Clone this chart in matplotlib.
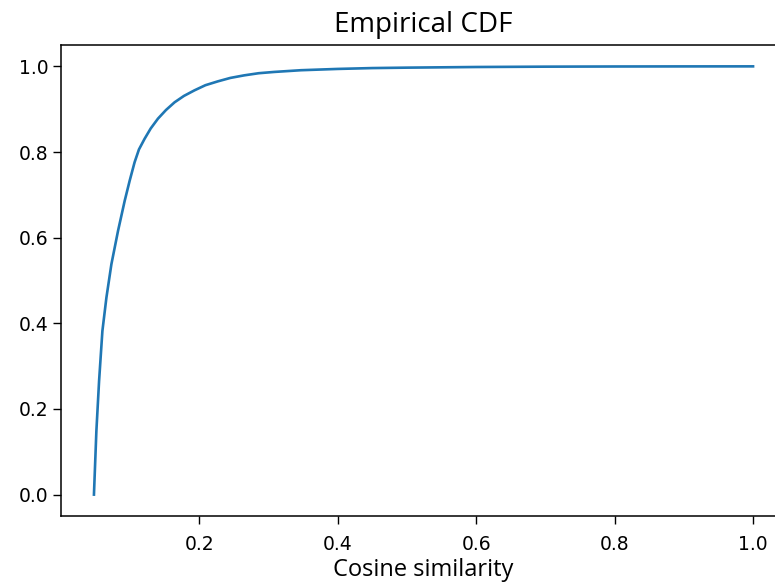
import matplotlib
matplotlib.use("Agg")
import matplotlib.pyplot as plt

# values
cos_sim = [0.048, 0.0515, 0.0554, 0.0602, 0.066, 0.0732, 0.0828, 0.0924, 0.0996,
           0.1067, 0.113, 0.1212, 0.130, 0.1405, 0.152, 0.1644, 0.178, 0.1932,
           0.209, 0.227, 0.245, 0.265, 0.286, 0.3085, 0.347, 0.40, 0.45, 0.50,
           0.60, 0.70, 0.80, 0.90, 1.0]
cdf = [0.0, 0.148, 0.265, 0.382, 0.460, 0.538, 0.616, 0.686, 0.733,
       0.776, 0.806, 0.831, 0.855, 0.878, 0.898, 0.916, 0.931, 0.944,
       0.956, 0.965, 0.973, 0.979, 0.984, 0.987, 0.991, 0.994, 0.996, 0.997,
       0.9985, 0.9993, 0.9997, 0.9999, 1.0]

fig = plt.figure(figsize=(7.75, 5.83), dpi=100)
ax = fig.add_axes([0.0787, 0.1149, 0.9355, 0.808])

ax.plot(cos_sim, cdf, color="#1f77b4", linewidth=1.9)
ax.set_title("Empirical CDF", fontsize=20, family="Open Sans", pad=9)
ax.set_xlabel("Cosine similarity", fontsize=17, family="Open Sans", labelpad=3)

ax.set_xticks([0.2, 0.4, 0.6, 0.8, 1.0])
ax.set_yticks([0.0, 0.2, 0.4, 0.6, 0.8, 1.0])
ax.tick_params(labelsize=13.5, length=5.5, width=1.0)
ax.tick_params(axis="x", pad=8)
for s in ax.spines.values():
    s.set_linewidth(1.1)
ax.spines["right"].set_visible(False)

fig.savefig("out.png", dpi=100)
